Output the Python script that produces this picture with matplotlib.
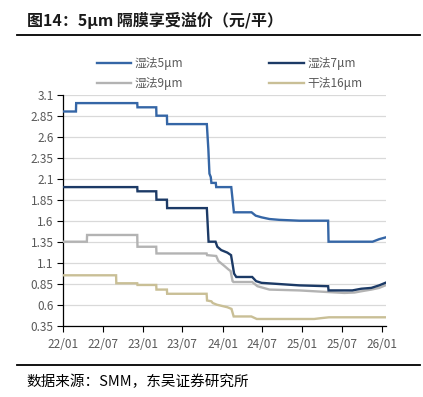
import matplotlib
matplotlib.use("Agg")
import matplotlib.pyplot as plt
from matplotlib.lines import Line2D
import pandas as pd

plt.rcParams['font.family'] = ['Noto Sans CJK SC', 'DejaVu Sans']

title = "图14：5μm 隔膜享受溢价（元/平）"
source = "数据来源：SMM，东吴证券研究所"
names = ["湿法5μm", "湿法7μm", "湿法9μm", "干法16μm"]
colors = ["#3566A6", "#1C3A66", "#B3B3B3", "#C9BF96"]

wet5_dates = ["2022-01-01", "2022-02-28", "2022-03-01", "2022-12-06", "2022-12-07", "2023-03-03",
              "2023-03-04", "2023-04-21", "2023-04-22", "2023-10-21", "2023-10-28", "2023-11-02",
              "2023-11-08", "2023-11-11", "2023-12-01", "2023-12-03", "2024-02-10", "2024-02-22",
              "2024-05-13", "2024-06-01", "2024-06-28", "2024-08-03", "2024-09-18", "2024-12-18",
              "2025-04-29", "2025-05-01", "2025-11-19", "2025-12-19", "2026-01-16"]
wet5_vals = [2.90, 2.90, 3.00, 3.00, 2.95, 2.95,
             2.85, 2.85, 2.75, 2.75, 2.45, 2.16,
             2.12, 2.05, 2.05, 2.00, 2.00, 1.70,
             1.70, 1.66, 1.64, 1.62, 1.61, 1.60,
             1.60, 1.35, 1.35, 1.38, 1.40]

wet7_dates = ["2022-01-01", "2022-12-06", "2022-12-07", "2023-03-03", "2023-03-04", "2023-04-21",
              "2023-04-22", "2023-10-21", "2023-10-29", "2023-11-30", "2023-12-08", "2023-12-26",
              "2024-01-23", "2024-02-09", "2024-02-23", "2024-03-04", "2024-05-16", "2024-06-03",
              "2024-06-28", "2024-08-25", "2024-12-18", "2025-04-29", "2025-05-01", "2025-08-18",
              "2025-09-28", "2025-11-13", "2025-12-19", "2026-01-16"]
wet7_vals = [2.00, 2.00, 1.95, 1.95, 1.85, 1.85,
             1.75, 1.75, 1.35, 1.35, 1.29, 1.25,
             1.22, 1.19, 0.97, 0.93, 0.93, 0.88,
             0.86, 0.85, 0.83, 0.82, 0.77, 0.77,
             0.79, 0.80, 0.83, 0.86]

wet9_dates = ["2022-01-01", "2022-04-19", "2022-04-20", "2022-12-06", "2022-12-07", "2023-03-03",
              "2023-03-04", "2023-10-20", "2023-10-22", "2023-12-03", "2023-12-13", "2024-01-10",
              "2024-01-28", "2024-02-07", "2024-02-16", "2024-02-20", "2024-05-16", "2024-06-09",
              "2024-08-03", "2024-12-18", "2025-05-03", "2025-07-12", "2025-08-28", "2025-09-28",
              "2025-11-13", "2025-12-19", "2026-01-16"]
wet9_vals = [1.35, 1.35, 1.43, 1.43, 1.29, 1.29,
             1.21, 1.21, 1.19, 1.18, 1.12, 1.06,
             1.02, 1.00, 0.88, 0.87, 0.87, 0.82,
             0.78, 0.77, 0.75, 0.74, 0.745, 0.76,
             0.78, 0.80, 0.83]

dry16_dates = ["2022-01-01", "2022-08-31", "2022-09-01", "2022-12-06", "2022-12-07", "2023-03-03",
               "2023-03-04", "2023-04-21", "2023-04-22", "2023-10-20", "2023-10-22", "2023-11-11",
               "2023-11-17", "2023-12-06", "2024-01-23", "2024-02-11", "2024-02-21", "2024-05-12",
               "2024-06-06", "2025-02-24", "2025-03-28", "2025-05-03", "2026-01-16"]
dry16_vals = [0.95, 0.95, 0.855, 0.855, 0.835, 0.835,
              0.78, 0.78, 0.73, 0.73, 0.65, 0.64,
              0.62, 0.60, 0.57, 0.55, 0.46, 0.46,
              0.43, 0.43, 0.44, 0.45, 0.45]

yticks = [0.35, 0.6, 0.85, 1.1, 1.35, 1.6, 1.85, 2.1, 2.35, 2.6, 2.85, 3.1]
ytick_labels = ["0.35", "0.6", "0.85", "1.1", "1.35", "1.6", "1.85", "2.1", "2.35", "2.6", "2.85", "3.1"]
xtick_dates = ["2022-01-01", "2022-07-01", "2023-01-01", "2023-07-01", "2024-01-01",
               "2024-07-01", "2025-01-01", "2025-07-01", "2026-01-01"]
xtick_labels = ["22/01", "22/07", "23/01", "23/07", "24/01", "24/07", "25/01", "25/07", "26/01"]

W, H = 423, 397
fig = plt.figure(figsize=(W / 100, H / 100), dpi=100)
ax = fig.add_axes([63.3 / W, 1 - 325.7 / H, (385.7 - 63.3) / W, (325.7 - 94.7) / H])

series = [(wet5_dates, wet5_vals), (wet7_dates, wet7_vals), (wet9_dates, wet9_vals), (dry16_dates, dry16_vals)]
order = [3, 2, 1, 0]
for i in order:
    d, v = series[i]
    ax.plot(pd.to_datetime(d), v, color=colors[i], lw=1.7, label=names[i], zorder=3 + (3 - i),
            solid_joinstyle='miter')

ax.set_ylim(0.35, 3.1)
ax.set_yticks(yticks)
ax.set_yticklabels(ytick_labels)
ax.set_xlim(pd.Timestamp("2022-01-01"), pd.Timestamp("2026-01-18"))
ax.set_xticks(pd.to_datetime(xtick_dates))
ax.set_xticklabels(xtick_labels)
ax.grid(axis='y', color='#D9D9D9', lw=0.9)
ax.set_axisbelow(True)
for s in ['top', 'right']:
    ax.spines[s].set_visible(False)
for s in ['left', 'bottom']:
    ax.spines[s].set_color('black')
    ax.spines[s].set_linewidth(0.9)
ax.tick_params(axis='both', colors='black', labelcolor='#595959', labelsize=8.5, length=4, width=0.8)
ax.tick_params(axis='x', pad=5)
ax.tick_params(axis='y', pad=3)

leg_order = [0, 2, 1, 3]
handles = [Line2D([0], [0], color=colors[i], lw=1.7) for i in leg_order]
labels = [names[i] for i in leg_order]
fig.legend(handles, labels, ncol=2, loc='center', bbox_to_anchor=(0.5 + 18 / W, 1 - 73.5 / H), frameon=False,
           fontsize=8.5, handlelength=2.9, columnspacing=7.3, labelspacing=0.55, handletextpad=0.3,
           labelcolor='#595959')

fig.text(27 / W, 1 - 20.5 / H, title, fontsize=11.5, fontweight='bold', va='center', ha='left', color='#1a1a1a')
fig.add_artist(Line2D([17 / W, 420 / W], [1 - 35 / H, 1 - 35 / H], color='black', lw=1.3))
fig.add_artist(Line2D([17 / W, 420 / W], [1 - 364.5 / H, 1 - 364.5 / H], color='black', lw=1.3))
fig.text(26 / W, 1 - 381.5 / H, source, fontsize=10.5, va='center', ha='left', color='black')

fig.savefig("out.png", dpi=100)
